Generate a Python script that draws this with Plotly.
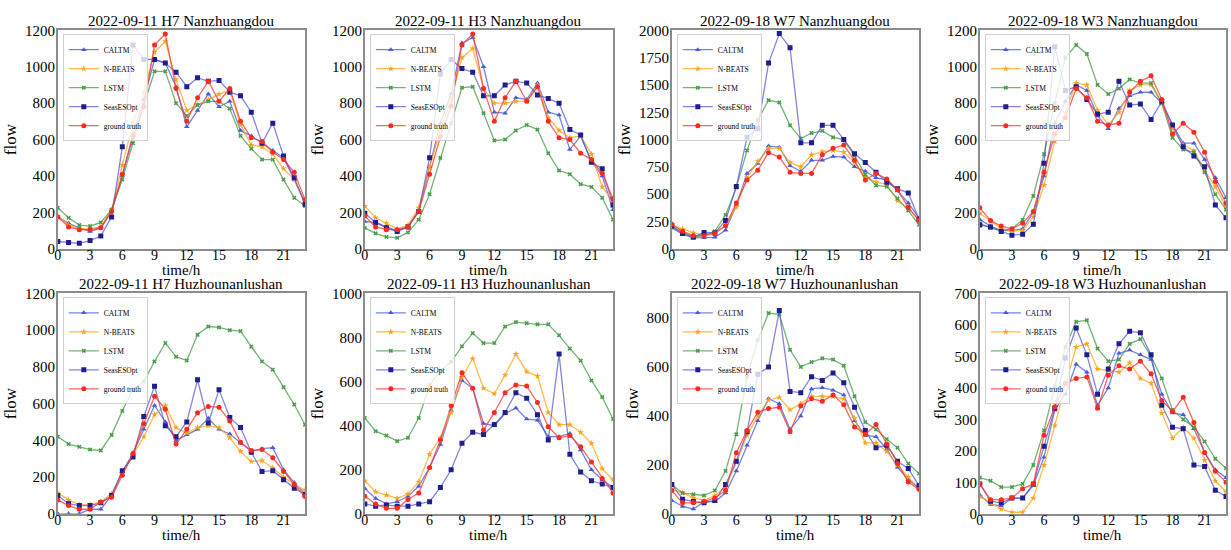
import plotly.graph_objects as go

hours = list(range(24))
x_ticks = [0, 3, 6, 9, 12, 15, 18, 21]

titles = [
    "2022-09-11 H7 Nanzhuangdou", "2022-09-11 H3 Nanzhuangdou",
    "2022-09-18 W7 Nanzhuangdou", "2022-09-18 W3 Nanzhuangdou",
    "2022-09-11 H7 Huzhounanlushan", "2022-09-11 H3 Huzhounanlushan",
    "2022-09-18 W7 Huzhounanlushan", "2022-09-18 W3 Huzhounanlushan",
]
x_label = "time/h"
y_label = "flow"
y_max = [1200, 1200, 2000, 1200, 1200, 1000, 900, 700]
y_step = [200, 200, 250, 200, 200, 200, 200, 100]

series_names = ["CALTM", "N-BEATS", "LSTM", "SeasESOpt", "ground truth"]

# Panel 1: 2022-09-11 H7 Nanzhuangdou
p1_caltm = [175, 140, 115, 95, 115, 205, 400, 630, 820, 1040, 1020, 890, 670, 760, 850, 780, 810, 650, 620, 580, 540, 500, 380, 250]
p1_nbeats = [180, 130, 110, 110, 120, 215, 460, 690, 860, 1080, 1140, 930, 760, 790, 820, 850, 870, 680, 570, 560, 520, 440, 380, 260]
p1_lstm = [225, 170, 130, 125, 145, 215, 380, 580, 790, 975, 975, 800, 730, 790, 810, 810, 770, 620, 550, 490, 490, 380, 280, 235]
p1_seas = [40, 35, 30, 45, 70, 175, 560, 1120, 1040, 1040, 1020, 970, 890, 940, 920, 925, 860, 840, 750, 580, 690, 510, 390, 245]
p1_truth = [175, 120, 105, 105, 115, 205, 410, 615, 780, 1120, 1180, 880, 700, 830, 920, 810, 880, 700, 610, 590, 530, 490, 420, 270]

# Panel 2: 2022-09-11 H3 Nanzhuangdou
p2_caltm = [150, 145, 120, 100, 120, 210, 450, 690, 850, 1130, 1160, 1000, 750, 745, 830, 820, 910, 750, 735, 545, 620, 480, 400, 215]
p2_nbeats = [235, 170, 140, 110, 130, 225, 450, 650, 820, 1050, 1100, 880, 800, 800, 810, 810, 900, 720, 650, 610, 620, 520, 340, 260]
p2_lstm = [115, 85, 65, 60, 90, 160, 300, 500, 690, 885, 890, 745, 595, 600, 650, 680, 655, 525, 430, 410, 355, 340, 280, 160]
p2_seas = [195, 145, 115, 95, 120, 205, 500, 960, 1040, 990, 970, 840, 840, 900, 920, 910, 845, 825, 800, 655, 625, 475, 440, 240]
p2_truth = [180, 120, 105, 105, 120, 205, 410, 615, 785, 1120, 1180, 880, 700, 830, 920, 810, 890, 700, 610, 600, 525, 490, 415, 275]

# Panel 3: 2022-09-18 W7 Nanzhuangdou
p3_caltm = [190, 135, 100, 100, 105, 170, 400, 690, 780, 940, 930, 760, 710, 810, 810, 845, 840, 750, 710, 650, 630, 530, 420, 280]
p3_nbeats = [220, 180, 145, 130, 145, 220, 380, 650, 800, 920, 920, 790, 750, 860, 890, 900, 885, 790, 660, 610, 590, 440, 370, 260]
p3_lstm = [200, 150, 110, 120, 160, 310, 560, 900, 1180, 1360, 1340, 1130, 1010, 1060, 1080, 1020, 1000, 850, 680, 580, 570, 460, 350, 220]
p3_seas = [210, 140, 105, 150, 145, 260, 570, 1020, 1100, 1700, 1970, 1840, 970, 970, 1130, 1130, 1000, 870, 790, 700, 610, 550, 510, 270]
p3_truth = [225, 160, 120, 120, 140, 210, 420, 630, 720, 880, 840, 700, 690, 690, 860, 920, 950, 810, 630, 690, 640, 540, 380, 260]

# Panel 4: 2022-09-18 W3 Nanzhuangdou
p4_caltm = [160, 125, 100, 100, 110, 200, 400, 690, 810, 900, 870, 730, 660, 770, 840, 860, 860, 800, 680, 580, 580, 490, 390, 280]
p4_nbeats = [195, 150, 110, 100, 100, 175, 350, 590, 750, 910, 900, 760, 680, 750, 870, 900, 900, 800, 660, 570, 540, 430, 340, 230]
p4_lstm = [140, 115, 100, 110, 160, 290, 520, 800, 1050, 1120, 1070, 900, 850, 880, 930, 910, 910, 800, 610, 545, 530, 420, 300, 215]
p4_seas = [130, 120, 95, 75, 80, 135, 470, 1110, 870, 890, 820, 740, 750, 920, 790, 795, 710, 810, 680, 560, 510, 450, 240, 170]
p4_truth = [225, 155, 125, 110, 140, 205, 420, 630, 720, 880, 830, 700, 680, 690, 860, 920, 950, 820, 630, 690, 640, 530, 370, 250]

# Panel 5: 2022-09-11 H7 Huzhounanlushan
p5_caltm = [0, 0, 0, 25, 25, 100, 230, 330, 460, 590, 500, 400, 430, 460, 520, 460, 435, 385, 340, 355, 360, 240, 170, 110]
p5_nbeats = [115, 75, 50, 50, 65, 110, 220, 320, 420, 540, 590, 470, 440, 470, 480, 470, 415, 340, 285, 290, 250, 200, 160, 130]
p5_lstm = [420, 380, 365, 350, 345, 430, 560, 680, 720, 830, 930, 855, 835, 975, 1020, 1015, 1000, 995, 910, 830, 785, 690, 595, 485]
p5_seas = [100, 55, 45, 45, 60, 100, 235, 310, 530, 695, 480, 420, 500, 730, 495, 675, 525, 470, 335, 230, 235, 185, 140, 105]
p5_truth = [75, 45, 25, 25, 65, 90, 210, 330, 490, 640, 570, 380, 460, 550, 585, 580, 505, 390, 345, 350, 305, 230, 160, 95]

# Panel 6: 2022-09-11 H3 Huzhounanlushan
p6_caltm = [115, 70, 45, 55, 80, 125, 210, 315, 470, 605, 570, 410, 400, 455, 480, 430, 425, 350, 350, 365, 290, 200, 155, 120]
p6_nbeats = [150, 100, 85, 70, 90, 145, 270, 345, 460, 620, 705, 570, 545, 630, 725, 645, 625, 460, 405, 405, 370, 320, 205, 155]
p6_lstm = [435, 375, 355, 330, 345, 435, 585, 650, 690, 760, 820, 775, 775, 850, 870, 865, 860, 860, 810, 750, 695, 605, 530, 430]
p6_seas = [45, 35, 40, 35, 35, 45, 55, 120, 200, 320, 370, 360, 405, 460, 550, 525, 450, 335, 725, 270, 190, 150, 135, 120]
p6_truth = [80, 45, 25, 25, 65, 95, 210, 335, 490, 640, 570, 380, 460, 550, 585, 580, 505, 395, 345, 355, 305, 235, 160, 95]

# Panel 7: 2022-09-18 W7 Huzhounanlushan
p7_caltm = [55, 30, 20, 50, 50, 85, 175, 280, 380, 470, 450, 345, 400, 510, 515, 505, 485, 380, 320, 315, 265, 190, 140, 105]
p7_nbeats = [100, 85, 65, 55, 75, 110, 210, 320, 400, 465, 475, 425, 450, 480, 480, 480, 470, 390, 290, 290, 255, 200, 150, 105]
p7_lstm = [120, 85, 80, 75, 95, 175, 325, 560, 710, 820, 815, 670, 600, 620, 635, 630, 605, 480, 375, 345, 305, 270, 205, 165]
p7_seas = [120, 60, 50, 45, 55, 120, 215, 335, 570, 600, 830, 500, 495, 560, 545, 575, 535, 435, 340, 270, 280, 215, 185, 115]
p7_truth = [95, 45, 45, 50, 65, 95, 250, 340, 415, 430, 435, 335, 440, 470, 460, 485, 445, 355, 325, 365, 285, 205, 130, 100]

# Panel 8: 2022-09-18 W3 Huzhounanlushan
p8_caltm = [60, 30, 25, 50, 50, 90, 180, 330, 380, 475, 450, 345, 400, 510, 520, 505, 490, 380, 320, 315, 270, 195, 140, 115]
p8_nbeats = [55, 35, 15, 5, 5, 50, 155, 280, 410, 530, 540, 460, 455, 450, 480, 430, 415, 320, 240, 275, 240, 170, 105, 70]
p8_lstm = [115, 105, 85, 85, 95, 155, 265, 405, 530, 610, 615, 525, 485, 490, 540, 555, 500, 430, 330, 300, 275, 230, 175, 145]
p8_seas = [95, 40, 35, 50, 50, 95, 215, 335, 495, 590, 505, 380, 460, 540, 580, 575, 505, 345, 275, 270, 155, 150, 75, 55]
p8_truth = [95, 45, 45, 50, 80, 95, 250, 340, 415, 430, 435, 335, 440, 470, 460, 485, 445, 360, 325, 370, 290, 195, 135, 100]

panels = [
    [p1_caltm, p1_nbeats, p1_lstm, p1_seas, p1_truth],
    [p2_caltm, p2_nbeats, p2_lstm, p2_seas, p2_truth],
    [p3_caltm, p3_nbeats, p3_lstm, p3_seas, p3_truth],
    [p4_caltm, p4_nbeats, p4_lstm, p4_seas, p4_truth],
    [p5_caltm, p5_nbeats, p5_lstm, p5_seas, p5_truth],
    [p6_caltm, p6_nbeats, p6_lstm, p6_seas, p6_truth],
    [p7_caltm, p7_nbeats, p7_lstm, p7_seas, p7_truth],
    [p8_caltm, p8_nbeats, p8_lstm, p8_seas, p8_truth],
]

# styles
line_colors = ["rgba(70,90,215,0.75)", "rgba(255,165,20,0.75)", "rgba(70,155,70,0.75)",
               "rgba(80,80,205,0.7)", "rgba(255,50,40,0.75)"]
marker_colors = ["#4a5ad6", "#ffa31a", "#4a9e4a", "#1e1e8c", "#ff2a1e"]
marker_symbols = ["triangle-up", "star", "x", "square", "circle"]
marker_sizes = [5, 5, 4, 5, 5]

W, H = 1231, 550
col_left = [54, 362, 670, 979]
col_right = [302, 611, 918, 1226]
row_top = [23, 294]
row_bot = [248, 521]

FONT = "Liberation Serif, Times New Roman, serif"

fig = go.Figure()
layout = dict(
    width=W, height=H, autosize=False,
    margin=dict(l=0, r=0, t=0, b=0),
    paper_bgcolor="white", plot_bgcolor="white",
    font=dict(family=FONT, color="black", size=14),
    showlegend=True,
)
annotations = []

for i in range(8):
    r, c = divmod(i, 4)
    n = i + 1
    xa = "x" if n == 1 else f"x{n}"
    ya = "y" if n == 1 else f"y{n}"
    lg = "legend" if n == 1 else f"legend{n}"
    for s in range(5):
        fig.add_trace(go.Scatter(
            x=hours, y=panels[i][s], name=series_names[s],
            mode="lines+markers", xaxis=xa, yaxis=ya, legend=lg,
            line=dict(color=line_colors[s], width=1.3),
            marker=dict(symbol=marker_symbols[s], size=marker_sizes[s],
                        color=marker_colors[s], line=dict(width=0)),
        ))
    xd = [col_left[c] / W, col_right[c] / W]
    yd = [1 - row_bot[r] / H, 1 - row_top[r] / H]
    ax_common = dict(showgrid=False, zeroline=False, showline=True, mirror=True,
                     linecolor="#8c8c8c", linewidth=1.5, ticks="")
    layout["xaxis" if n == 1 else f"xaxis{n}"] = dict(
        domain=xd, anchor=ya, range=[0, 23], tickvals=x_ticks,
        ticklabelstandoff=-7,
        tickfont=dict(family=FONT, size=14, color="black"),
        **ax_common)
    layout["yaxis" if n == 1 else f"yaxis{n}"] = dict(
        domain=yd, anchor=xa, range=[0, y_max[i]], dtick=y_step[i], tick0=0,
        ticklabelstandoff=-2,
        tickfont=dict(family=FONT, size=15, color="black"),
        title=dict(text=y_label, font=dict(family=FONT, size=17), standoff=4),
        **ax_common)
    layout[lg] = dict(
        x=(col_left[c] + 5) / W, y=1 - (row_top[r] + 4) / H,
        xanchor="left", yanchor="top",
        bgcolor="rgba(255,255,255,0.8)", bordercolor="#d0d0d0", borderwidth=1,
        font=dict(family=FONT, size=7.5, color="black"), itemwidth=30,
        tracegroupgap=0,
    )
    # subplot title
    annotations.append(dict(
        text=titles[i], x=(xd[0] + xd[1]) / 2, y=yd[1], xref="paper", yref="paper",
        xanchor="center", yanchor="bottom", showarrow=False, borderpad=0,
        font=dict(family=FONT, size=15, color="black"),
    ))
    # x axis title
    annotations.append(dict(
        text=x_label, x=(xd[0] + xd[1]) / 2, y=yd[0], xref="paper", yref="paper",
        xanchor="center", yanchor="top", showarrow=False, borderpad=0, yshift=-12,
        font=dict(family=FONT, size=15, color="black"),
    ))

layout["annotations"] = annotations
fig.update_layout(**layout)
fig.write_html("out.html")
